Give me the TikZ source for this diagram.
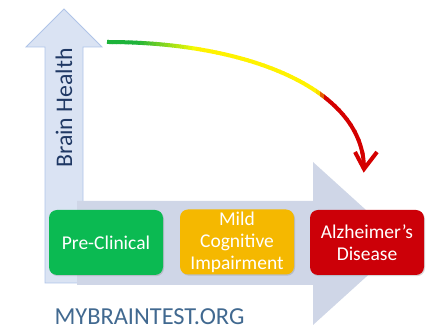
\documentclass[tikz,border=0pt]{standalone}
\usepackage{fontspec}
\setmainfont{Carlito}
\usetikzlibrary{shadows}
\definecolor{upfill}{HTML}{DAE3F3}
\definecolor{upline}{HTML}{AFC4E8}
\definecolor{rightfill}{HTML}{CFD6E7}
\definecolor{pcgreen}{HTML}{0BBA52}
\definecolor{mciorange}{HTML}{F5B800}
\definecolor{adred}{HTML}{CC0008}
\definecolor{arcgreen}{HTML}{1DB33A}
\definecolor{arcred}{HTML}{D40000}
\definecolor{brainblue}{HTML}{1F3864}
\definecolor{siteblue}{HTML}{416990}

\begin{document}
\begin{tikzpicture}[x=1pt,y=-1pt,
  stage/.style={rounded corners=8pt, minimum width=114pt, minimum height=65pt,
    inner sep=0pt, text=white, align=center,
    font=\fontsize{19.5}{22}\selectfont,
    drop shadow={opacity=0.3, shadow xshift=1pt, shadow yshift=-1.2pt}}]
\useasboundingbox (0,0) rectangle (448,336);
% axes
\draw[fill=upfill, draw=upline, line width=0.8pt] (45,283) -- (45,47) -- (26,47) -- (64,9)
  -- (102,47) -- (83,47) -- (83,283) -- cycle;
\fill[rightfill] (77,201) -- (313,201) -- (313,162) -- (403,243.5) -- (313,325)
  -- (313,285) -- (77,285) -- cycle;
% stages
\node[stage, fill=pcgreen] (preclin) at (106,242.5) {Pre-Clinical};
\node[stage, fill=mciorange] (mci) at (237,242) {Mild\\Cognitive\\Impairment};
\node[stage, fill=adred] (ad) at (367,242.5) {Alzheimer’s\\Disease};
\node[rotate=90, text=brainblue, font=\fontsize{23.8}{26}\selectfont, inner sep=0pt] (brain) at (64,108) {Brain Health};
\node[text=siteblue, font=\fontsize{24.4}{27}\selectfont, inner sep=0pt] (site) at (149.5,316.5) {MYBRAINTEST.ORG};
% decline curve
\coordinate (arcstart) at (107,42);
\coordinate (arctip) at (364,169);
\foreach \x in {100,104,...,380} {
  \pgfmathsetmacro{\gp}{max(0,min(100,(195-\x)/60*100))}
  \pgfmathsetmacro{\rp}{max(0,min(100,(\x-315)/8*100))}
  \colorlet{gy}{arcgreen!\gp!yellow}
  \colorlet{segcol}{arcred!\rp!gy}
  \begin{scope}
    \clip (\x,0) rectangle (\x+4.6,336);
    \draw[segcol, line width=4pt] (arcstart) .. controls (250,42) and (364,90) .. (arctip);
  \end{scope}
}
\draw[arcred, line width=4pt, line join=miter] (arctip) ++(-9,-17) -- (arctip) -- ++(13,-17);
\end{tikzpicture}
\end{document}
